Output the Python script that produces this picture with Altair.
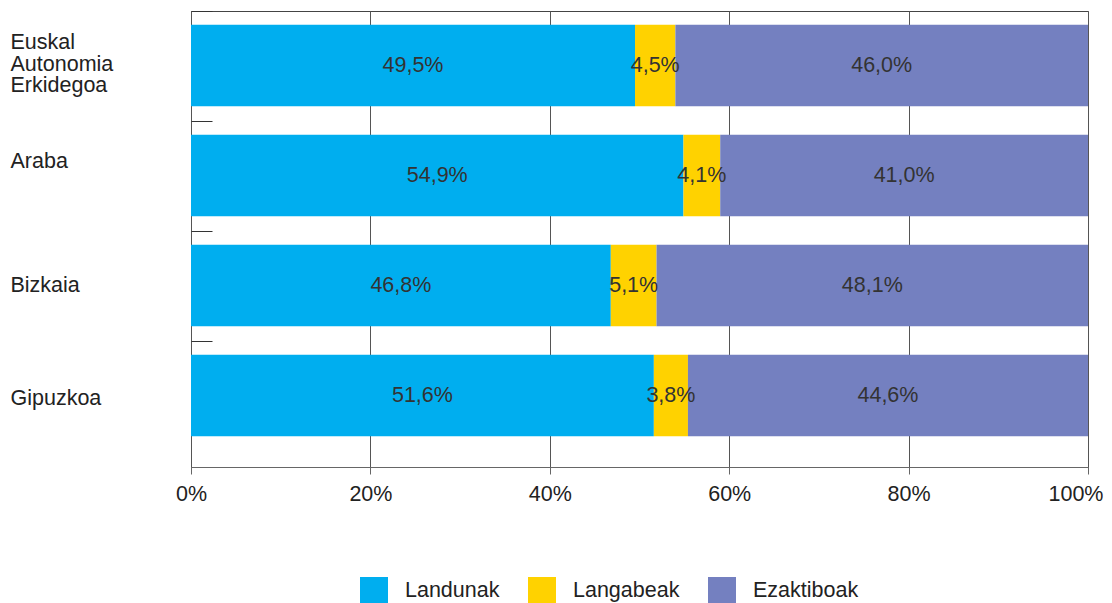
import altair as alt
import pandas as pd

regions = ["Euskal|Autonomia|Erkidegoa", "Araba", "Bizkaia", "Gipuzkoa"]
series = ["Landunak", "Langabeak", "Ezaktiboak"]
landunak = [49.5, 54.9, 46.8, 51.6]
langabeak = [4.5, 4.1, 5.1, 3.8]
ezaktiboak = [46.0, 41.0, 48.1, 44.6]
colors = ["#00AEEF", "#FFD200", "#7480C0"]
x_ticks = [0, 20, 40, 60, 80, 100]

rows = []
for i, r in enumerate(regions):
    for j, (s, vals) in enumerate(zip(series, [landunak, langabeak, ezaktiboak])):
        rows.append({"region": r, "series": s, "order": j, "value": vals[i]})
df = pd.DataFrame(rows)

FONT = "Liberation Sans"
FS = 21.5

label_offset = {
    "condition": [
        {"test": f"datum.value == '{regions[0]}'", "value": 32},
        {"test": f"datum.value == '{regions[1]}'", "value": 41},
        {"test": f"datum.value == '{regions[3]}'", "value": 58},
    ],
    "value": 55,
}

y_enc = alt.Y(
    "region:N",
    sort=regions,
    title=None,
    scale=alt.Scale(paddingInner=0.26, paddingOuter=0.2027, align=0.31),
    axis=alt.Axis(
        domain=False,
        ticks=True,
        tickOffset=-55,
        tickSize=21,
        tickColor="#333",
        tickWidth=1,
        offset=-21,
        labelAlign="left",
        labelPadding=181,
        labelFontSize=FS,
        labelFont=FONT,
        labelColor="#222",
        labelLineHeight=21.7,
        labelOffset=label_offset,
        labelExpr="split(datum.label, '|')",
        grid=False,
    ),
)

base = alt.Chart(df).transform_stack(
    stack="value", groupby=["region"], as_=["x0", "x1"], sort=[alt.SortField("order")]
)

bars = base.mark_bar(strokeWidth=0).encode(
    y=y_enc,
    x=alt.X(
        "x0:Q",
        title=None,
        scale=alt.Scale(domain=[0, 100], nice=False),
        axis=alt.Axis(
            values=x_ticks,
            labelExpr="datum.value + '%'",
            labelFontSize=FS,
            labelFont=FONT,
            labelColor="#222",
            labelPadding=9,
            labelFlush=False,
            labelAlign={"condition": {"test": "datum.value == 100", "value": "right"}, "value": "center"},
            labelOffset={"condition": {"test": "datum.value == 100", "value": 15}, "value": 0},
            tickSize=7,
            tickColor="#666",
            domainColor="#666",
            grid=True,
            gridColor="#555",
            gridWidth=1,
        ),
    ),
    x2="x1:Q",
    color=alt.Color(
        "series:N",
        sort=series,
        scale=alt.Scale(domain=series, range=colors),
        legend=alt.Legend(
            title=None,
            orient="none",
            legendX=169,
            legendY=566,
            direction="horizontal",
            columns=3,
            symbolType="square",
            symbolSize=784,
            symbolStrokeWidth=0,
            symbolOpacity=1,
            labelFontSize=FS,
            labelFont=FONT,
            labelColor="#222",
            labelOffset=17,
            gridAlign="each",
            columnPadding=28,
        ),
    ),
)

texts = base.transform_calculate(
    mid="(datum.x0 + datum.x1) / 2",
    lab="replace(format(datum.value, '.1f'), '.', ',') + '%'",
).mark_text(fontSize=FS, font=FONT, color="#333").encode(
    y=alt.Y("region:N", sort=regions),
    x=alt.X("mid:Q"),
    text="lab:N",
)

chart = (
    alt.layer(bars, texts)
    .properties(
        width=897,
        height=456,
        autosize=alt.AutoSizeParams(type="none"),
        padding={"left": 183, "top": 3, "right": 16, "bottom": 160},
    )
    .configure_view(stroke="#444", strokeWidth=1)
)

chart.save("out.html", embed_options={"renderer": "svg", "actions": False})
